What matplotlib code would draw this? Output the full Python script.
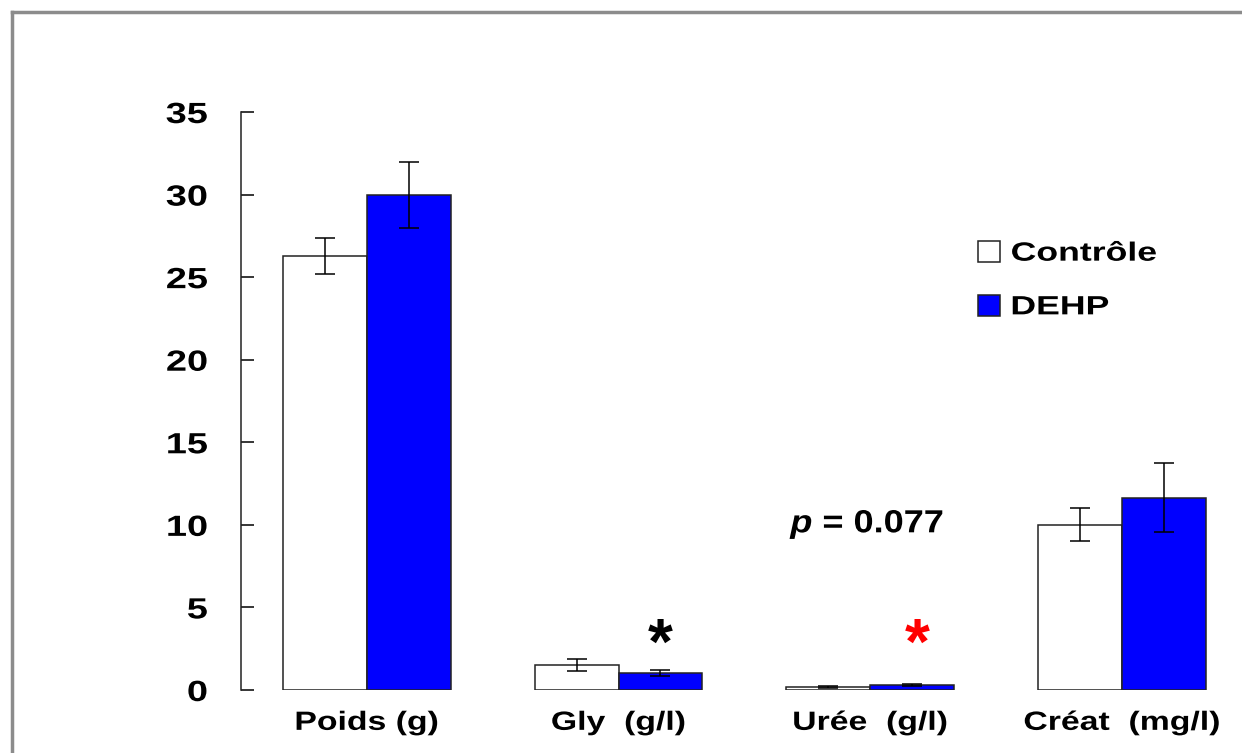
import matplotlib
matplotlib.use("Agg")
import matplotlib.pyplot as plt
import numpy as np
from matplotlib.lines import Line2D
from matplotlib.patheffects import AbstractPathEffect
from matplotlib.transforms import Affine2D

plt.rcParams["font.family"] = ["Liberation Sans", "DejaVu Sans"]
plt.rcParams["font.weight"] = "bold"
plt.rcParams["mathtext.fontset"] = "custom"
plt.rcParams["mathtext.it"] = "Liberation Sans:italic:bold"
plt.rcParams["mathtext.rm"] = "Liberation Sans:bold"

categories = ["Poids (g)", "Gly  (g/l)", "Urée  (g/l)", "Créat  (mg/l)"]
controle = [26.3, 1.5, 0.18, 10.0]
controle_err = [1.1, 0.35, 0.05, 1.0]
dehp = [30.0, 1.03, 0.3, 11.65]
dehp_err = [2.0, 0.2, 0.05, 2.1]
y_ticks = [0, 5, 10, 15, 20, 25, 30, 35]


class HStretch(AbstractPathEffect):
    """Widen text horizontally (the original uses a wide bold font)."""

    def __init__(self, sx, anchor="center"):
        super().__init__()
        self.sx = sx
        self.anchor = anchor

    def draw_path(self, renderer, gc, tpath, affine, rgbFace=None):
        ext = tpath.get_extents(affine)
        if self.anchor == "left":
            x0 = ext.x0
        elif self.anchor == "right":
            x0 = ext.x1
        else:
            x0 = (ext.x0 + ext.x1) / 2
        t = affine + Affine2D().translate(-x0, 0).scale(self.sx, 1).translate(x0, 0)
        renderer.draw_path(gc, tpath, t, rgbFace)


W, H = 1242, 753
fig = plt.figure(figsize=(W / 100, H / 100), dpi=100)
ax = fig.add_axes([241 / W, 1 - 690 / H, 1 - 241 / W, (690 - 112) / H])

x = np.arange(len(categories))
width = 0.333
err_kw = dict(ecolor="black", elinewidth=1.1, capsize=7, capthick=1.1)
ax.bar(x - width / 2, controle, width, yerr=controle_err, color="white",
       edgecolor="#222222", linewidth=1.1, label="Contrôle", error_kw=err_kw)
ax.bar(x + width / 2, dehp, width, yerr=dehp_err, color="#0000FF",
       edgecolor="#222222", linewidth=1.1, label="DEHP", error_kw=err_kw)

ax.set_xlim(-0.5, -0.5 + (W - 241) / 251.7)
ax.set_ylim(0, 35)
ax.set_yticks(y_ticks)
ax.set_xticks(x)
ax.set_xticklabels(categories, fontsize=19, fontweight="bold")
ax.tick_params(axis="x", length=0, pad=15)
ax.tick_params(axis="y", direction="in", length=9, width=1.1, pad=24,
               labelsize=21)
for lab in ax.get_yticklabels():
    lab.set_fontweight("bold")
    lab.set_path_effects([HStretch(1.3, "right")])
for lab in ax.get_xticklabels():
    lab.set_path_effects([HStretch(1.28, "center")])
for s in ["top", "right", "bottom"]:
    ax.spines[s].set_visible(False)
ax.spines["left"].set_linewidth(1.1)
ax.spines["left"].set_color("#222222")

# significance marks
ax.text(x[1] + width / 2, 1.6, "*", ha="center", va="baseline",
        fontsize=46, fontweight="bold", color="black")
ax.text(x[2] + width / 2 + 0.02, 1.6, "*", ha="center", va="baseline",
        fontsize=46, fontweight="bold", color="red")
pt = ax.text(x[2] - 0.01, 10.0, r"$p$ = 0.077", ha="center",
             va="center", fontsize=23, fontweight="bold")
pt.set_path_effects([HStretch(1.13, "center")])

leg = ax.legend(loc="upper left", bbox_to_anchor=(978 / W, 1 - 241 / H),
                bbox_transform=fig.transFigure, frameon=False, fontsize=19,
                handlelength=0.85, handleheight=0.85, handletextpad=0.4,
                labelspacing=1.1, borderpad=0, borderaxespad=0)
for t in leg.get_texts():
    t.set_path_effects([HStretch(1.35, "left")])

# grey outer frame (top and left edges visible)
fig.add_artist(Line2D([12 / W, 12 / W], [-0.1, 1 - 12 / H],
                      transform=fig.transFigure, color="#8c8c8c", lw=2.5))
fig.add_artist(Line2D([12 / W, 1.1], [1 - 12 / H, 1 - 12 / H],
                      transform=fig.transFigure, color="#8c8c8c", lw=2.5))

fig.savefig("out.png", dpi=100)
